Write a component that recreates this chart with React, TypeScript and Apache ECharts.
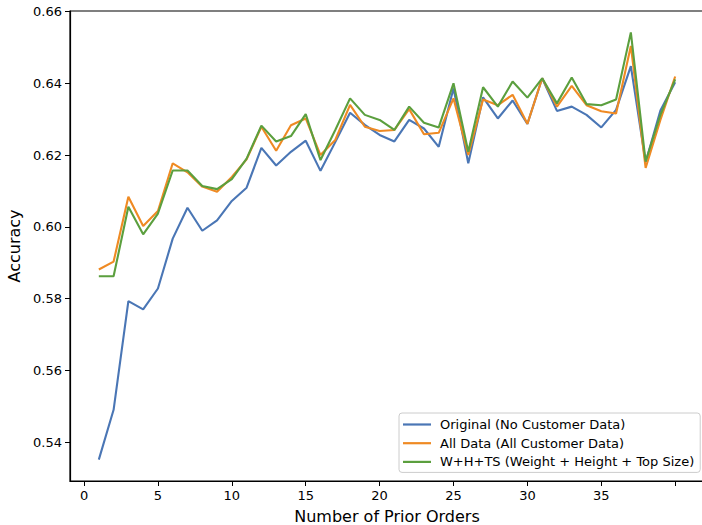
import React, { useEffect, useRef } from "react";
import * as echarts from "echarts";

// Number of prior orders (x) and model accuracy for each feature set
const priorOrders = [
  1, 2, 3, 4, 5, 6, 7, 8, 9, 10, 11, 12, 13, 14, 15, 16, 17, 18, 19, 20,
  21, 22, 23, 24, 25, 26, 27, 28, 29, 30, 31, 32, 33, 34, 35, 36, 37, 38, 39, 40,
];

const originalAcc = [
  0.5351, 0.549, 0.5793, 0.577, 0.5828, 0.5967, 0.6053, 0.5989, 0.6018, 0.6072,
  0.6109, 0.622, 0.6171, 0.6209, 0.624, 0.6156, 0.6236, 0.6318, 0.6284, 0.6256,
  0.6238, 0.6298, 0.6274, 0.6223, 0.6386, 0.6177, 0.6361, 0.6302, 0.6352, 0.6287,
  0.6414, 0.6323, 0.6335, 0.6312, 0.6277, 0.6326, 0.6448, 0.618, 0.6324, 0.6403,
];

const allDataAcc = [
  0.5881, 0.5903, 0.6084, 0.6002, 0.6044, 0.6177, 0.6152, 0.6112, 0.6098, 0.6139,
  0.6188, 0.6279, 0.6212, 0.6283, 0.6302, 0.62, 0.6242, 0.634, 0.6279, 0.6267,
  0.627, 0.6328, 0.6258, 0.6262, 0.6358, 0.62, 0.6355, 0.6339, 0.6368, 0.6287,
  0.6414, 0.6335, 0.6393, 0.6339, 0.6322, 0.6316, 0.6504, 0.6164, 0.6298, 0.6419,
];

const whtsAcc = [
  0.5862, 0.5862, 0.6056, 0.5979, 0.6037, 0.6157, 0.6157, 0.6114, 0.6105, 0.6133,
  0.619, 0.6282, 0.6238, 0.6253, 0.6314, 0.6186, 0.627, 0.6358, 0.6312, 0.6298,
  0.627, 0.6335, 0.629, 0.6277, 0.64, 0.6209, 0.6389, 0.6335, 0.6405, 0.636,
  0.6414, 0.6344, 0.6416, 0.6342, 0.6339, 0.6355, 0.6542, 0.6182, 0.6312, 0.6411,
];

const seriesNames = [
  "Original (No Customer Data)",
  "All Data (All Customer Data)",
  "W+H+TS (Weight + Height + Top Size)",
];
const seriesColors = ["#4a76b5", "#ef8a23", "#5b9f3e"];

const xTicks = [0, 5, 10, 15, 20, 25, 30, 35, 40];
const xTickLabels = [0, 5, 10, 15, 20, 25, 30, 35];
const yTicks = [0.54, 0.56, 0.58, 0.6, 0.62, 0.64, 0.66];

const FONT = "DejaVu Sans";

// 5% padding around the data range on both axes
function paddedRange(values: number[]): [number, number] {
  const lo = Math.min(...values);
  const hi = Math.max(...values);
  const pad = (hi - lo) * 0.05;
  return [lo - pad, hi + pad];
}

export default function App() {
  const ref = useRef<HTMLDivElement>(null);

  useEffect(() => {
    if (!ref.current) return;
    const chart = echarts.init(ref.current, undefined, { renderer: "svg" });

    const [xMin, xMax] = paddedRange(priorOrders);
    const [yMin, yMax] = paddedRange([...originalAcc, ...allDataAcc, ...whtsAcc]);
    const seriesData = [originalAcc, allDataAcc, whtsAcc];

    chart.setOption({
      animation: false,
      backgroundColor: "#ffffff",
      grid: {
        left: 70,
        top: 11,
        width: 634,
        height: 470,
        outerBoundsMode: "none",
        containLabel: false,
        show: true,
        borderColor: "#000",
        borderWidth: 1.2,
        backgroundColor: "transparent",
      },
      legend: {
        orient: "vertical",
        left: 399,
        top: 413,
        padding: [5, 6, 4, 4],
        itemGap: 5.7,
        itemWidth: 28,
        itemHeight: 2.2,
        icon: "rect",
        borderColor: "#cccccc",
        borderWidth: 1,
        borderRadius: 3,
        backgroundColor: "rgba(255,255,255,0.85)",
        textStyle: {
          fontFamily: FONT,
          fontSize: 13,
          color: "#000",
          padding: [0, 0, 0, 4],
        },
        data: seriesNames,
      },
      xAxis: {
        type: "value",
        min: xMin,
        max: xMax,
        name: "Number of Prior Orders",
        nameLocation: "middle",
        nameGap: 27,
        nameTextStyle: { fontFamily: FONT, fontSize: 16, color: "#000" },
        splitLine: { show: false },
        axisLine: { show: true, onZero: false, lineStyle: { color: "#000", width: 1.2 } },
        axisTick: {
          show: true,
          inside: false,
          length: 5,
          lineStyle: { color: "#000", width: 1 },
          customValues: xTicks,
        },
        axisLabel: {
          fontFamily: FONT,
          fontSize: 13,
          color: "#000",
          margin: 8,
          customValues: xTickLabels,
          formatter: (v: number) => String(v),
        },
      },
      yAxis: {
        type: "value",
        min: yMin,
        max: yMax,
        name: "Accuracy",
        nameLocation: "middle",
        nameGap: 48,
        nameTextStyle: { fontFamily: FONT, fontSize: 16, color: "#000" },
        splitLine: { show: false },
        axisLine: { show: true, onZero: false, lineStyle: { color: "#000", width: 1.2 } },
        axisTick: {
          show: true,
          inside: false,
          length: 5,
          lineStyle: { color: "#000", width: 1 },
          customValues: yTicks,
        },
        axisLabel: {
          fontFamily: FONT,
          fontSize: 13,
          color: "#000",
          margin: 8,
          customValues: yTicks,
          formatter: (v: number) => v.toFixed(2),
        },
      },
      series: seriesNames.map((name, i) => ({
        name,
        type: "line",
        symbol: "none",
        color: seriesColors[i],
        lineStyle: { width: 2.1, color: seriesColors[i] },
        data: priorOrders.map((x, j) => [x, seriesData[i][j]]),
        z: 2 + i,
      })),
    });

    return () => chart.dispose();
  }, []);

  return (
    <div
      ref={ref}
      style={{ position: "fixed", left: 0, top: 0, width: 702, height: 525 }}
    />
  );
}
